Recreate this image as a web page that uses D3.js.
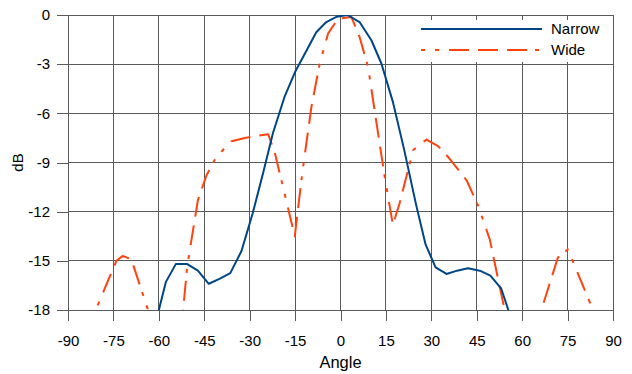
<!DOCTYPE html>
<meta charset="utf-8">
<style>
body { margin: 0; background: #fff; }
text { font-family: "Liberation Sans", Arial, sans-serif; fill: #000; }
.grid line { stroke: #5a5a5a; stroke-width: 1; shape-rendering: crispEdges; }
.axis path { display: none; }
.axis line { stroke: #5a5a5a; shape-rendering: crispEdges; }
.axis text { font-size: 15px; }
.line { fill: none; stroke-width: 2; stroke-linejoin: round; }
</style>
<svg id="chart" width="632" height="374"></svg>
<script src="https://cdn.jsdelivr.net/npm/d3@7"></script>
<script>
// angles in degrees, levels in dB
var narrowAngles = [-61.2, -57.7, -54.4, -50.6, -47.1, -43.5, -40, -36.4, -32.7, -29, -25.5, -22.3, -18.5, -14.8, -11.3, -8, -4.7, -1.2, 2.3, 6.3, 10.2, 13.5, 17.3, 21, 25, 28.1, 31.4, 35, 38.5, 42.1, 46, 49.5, 53.1, 56.5];
var narrowDb     = [-18.9, -16.3, -15.2, -15.2, -15.6, -16.4, -16.1, -15.75, -14.4, -12.1, -9.6, -7.2, -5.0, -3.4, -2.2, -1.05, -0.43, -0.1, 0, -0.43, -1.54, -2.96, -5.3, -8.2, -11.6, -14.0, -15.4, -15.8, -15.6, -15.45, -15.6, -15.9, -16.7, -18.6];

var wideAngles = [-82, -74, -72, -69.1, -62.5, -52.5, -50.6, -47.1, -44.3, -41, -36, -31.6, -23.9, -21.7, -15.1, -12.6, -9.6, -6.9, -4.1, -0.8, 3.6, 6.3, 9.1, 11.9, 14.6, 17.3, 19.5, 24, 28.4, 32.2, 35.5, 41.6, 45.4, 49.3, 55, 65.5, 71.8, 75.1, 82.5];
var wideDb     = [-18.5, -15.0, -14.7, -14.9, -18.6, -19.0, -15.3, -11.3, -9.8, -8.65, -7.7, -7.5, -7.27, -8.4, -13.5, -9.6, -5.6, -3.0, -1.13, -0.22, -0.12, -1.34, -3.17, -6.6, -9.87, -12.8, -11.5, -8.24, -7.6, -8.0, -8.65, -10.07, -11.6, -13.7, -18.7, -18.5, -14.8, -14.3, -17.6];

var xTicks = [-90, -75, -60, -45, -30, -15, 0, 15, 30, 45, 60, 75, 90];
var yTicks = [0, -3, -6, -9, -12, -15, -18];
var seriesNames = ["Narrow", "Wide"];
var seriesColors = ["#004586", "#ff420e"];

var svg = d3.select("#chart"),
    margin = {top: 15, right: 19, bottom: 64, left: 68},
    width = svg.attr("width") - margin.left - margin.right,
    height = svg.attr("height") - margin.top - margin.bottom,
    g = svg.append("g").attr("transform", "translate(" + margin.left + "," + margin.top + ")");

var x = d3.scaleLinear().domain([-90, 90]).range([0, width]),
    y = d3.scaleLinear().domain([-18, 0]).range([height, 0]);

// plain hyphen for negatives, like the original
var fmt = function(d) { return String(d); };

g.append("defs").append("clipPath").attr("id", "clip")
  .append("rect").attr("width", width).attr("height", height);

// grid
g.append("g").attr("class", "grid")
  .selectAll("line").data(xTicks).enter().append("line")
    .attr("x1", function(d) { return x(d); }).attr("x2", function(d) { return x(d); })
    .attr("y1", 0).attr("y2", height);
g.append("g").attr("class", "grid")
  .selectAll("line").data(yTicks).enter().append("line")
    .attr("x1", 0).attr("x2", width)
    .attr("y1", function(d) { return y(d); }).attr("y2", function(d) { return y(d); });

g.append("g")
    .attr("class", "axis")
    .attr("transform", "translate(0," + height + ")")
    .call(d3.axisBottom(x).tickValues(xTicks).tickFormat(fmt).tickSize(11).tickPadding(14));

g.append("g")
    .attr("class", "axis")
    .call(d3.axisLeft(y).tickValues(yTicks).tickFormat(fmt).tickSize(11).tickPadding(7));

var series = [
  {name: seriesNames[0], color: seriesColors[0], dash: null,
   values: narrowAngles.map(function(a, i) { return {a: a, db: narrowDb[i]}; })},
  {name: seriesNames[1], color: seriesColors[1], dash: "4,10,4,10,20,9,20,9,20,8",
   values: wideAngles.map(function(a, i) { return {a: a, db: wideDb[i]}; })}
];

var line = d3.line()
    .x(function(d) { return x(d.a); })
    .y(function(d) { return y(d.db); });

g.append("g").attr("clip-path", "url(#clip)")
  .selectAll("path").data(series.slice().reverse()).enter().append("path")
    .attr("class", "line")
    .attr("d", function(d) { return line(d.values); })
    .style("stroke", function(d) { return d.color; })
    .style("stroke-dasharray", function(d) { return d.dash; });

// axis titles
g.append("text")
    .attr("x", width / 2)
    .attr("y", height + 58)
    .attr("text-anchor", "middle")
    .style("font-size", "16.5px")
    .text("Angle");

g.append("text")
    .attr("transform", "translate(" + (23 - margin.left) + "," + (height / 2) + ") rotate(-90)")
    .attr("text-anchor", "middle")
    .style("font-size", "15px")
    .text("dB");

// legend
var legend = g.append("g").attr("transform", "translate(" + (width - 200) + ",5)");
legend.append("rect").attr("width", 199).attr("height", 42).attr("fill", "#fff");
var item = legend.selectAll(".item").data(series).enter().append("g")
    .attr("transform", function(d, i) { return "translate(0," + (9 + i * 21) + ")"; });
item.append("line")
    .attr("x1", 8).attr("x2", 129)
    .style("stroke", function(d) { return d.color; })
    .style("stroke-width", 2)
    .style("stroke-dasharray", function(d) { return d.dash; });
item.append("text")
    .attr("x", 138)
    .attr("dy", "0.35em")
    .style("font-size", "15px")
    .text(function(d) { return d.name; });
</script>
